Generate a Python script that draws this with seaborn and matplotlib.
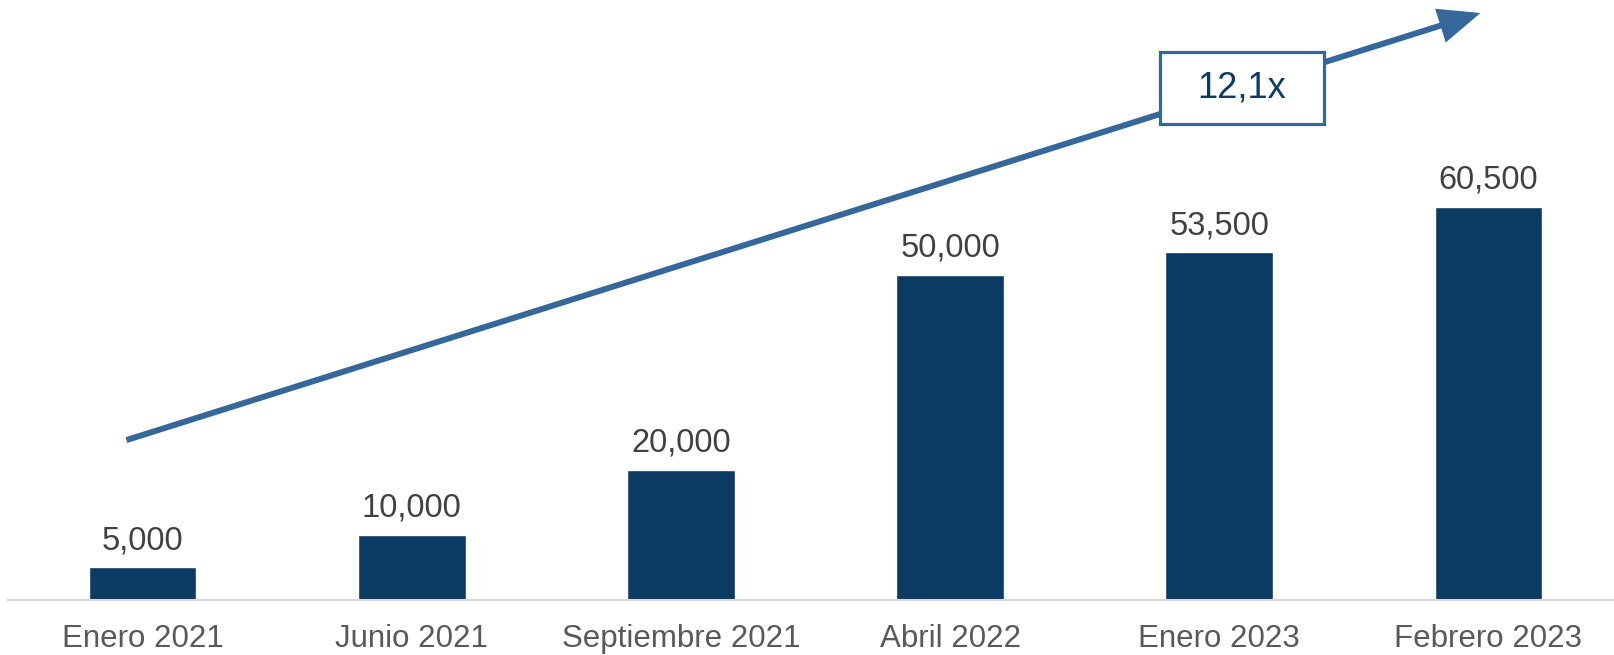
import matplotlib
matplotlib.use("Agg")
import matplotlib.pyplot as plt
from matplotlib.patches import Rectangle
import seaborn as sns
import pandas as pd

# data
meses = ["Enero 2021", "Junio 2021", "Septiembre 2021", "Abril 2022", "Enero 2023", "Febrero 2023"]
valores = [5000, 10000, 20000, 50000, 53500, 60500]
etiquetas = ["5,000", "10,000", "20,000", "50,000", "53,500", "60,500"]
multiplo = "12,1x"

sns.set_theme(style="white")
plt.rcParams["font.family"] = ["Liberation Sans", "DejaVu Sans"]

df = pd.DataFrame({"mes": meses, "valor": valores})

fig = plt.figure(figsize=(16.15, 6.55), dpi=100)
ax = fig.add_axes([8 / 1615, 55 / 655, 1 - 8 / 1615, 600 / 655])

sns.barplot(data=df, x="mes", y="valor", color="#0B3A63", width=0.4,
            saturation=1, ax=ax)

ax.bar_label(ax.containers[0], labels=etiquetas, padding=8,
             fontsize=23.5, color="#404040")

ax.set_xlim(-0.5, 5.47)
ax.set_ylim(0, 92300)
ax.set_xlabel("")
ax.set_ylabel("")
ax.set_yticks([])
ax.tick_params(axis="x", length=0, pad=17, labelsize=22.5, labelcolor="#595959")
for s in ["left", "right", "top"]:
    ax.spines[s].set_visible(False)
ax.spines["bottom"].set_color("#D9D9D9")
ax.spines["bottom"].set_linewidth(1.5)

# growth arrow
flecha = "#35679A"
ax.annotate("", xy=(4.97, 90300), xytext=(-0.06, 24600),
            arrowprops=dict(arrowstyle="-|>,head_length=0.9,head_width=0.38",
                            mutation_scale=25, lw=4.3, color=flecha,
                            shrinkA=0, shrinkB=0, capstyle="butt",
                            joinstyle="miter"),
            annotation_clip=False)

# multiplier box
bx, by = 4.084, 78770
bw, bh = 0.612, 11080
ax.add_patch(Rectangle((bx - bw / 2, by - bh / 2), bw, bh, facecolor="white",
                       edgecolor=flecha, lw=2.3, zorder=5, clip_on=False))
ax.text(bx, by, multiplo, ha="center", va="center", fontsize=26,
        color="#0B3A63", zorder=6)

fig.savefig("out.png", dpi=100)
